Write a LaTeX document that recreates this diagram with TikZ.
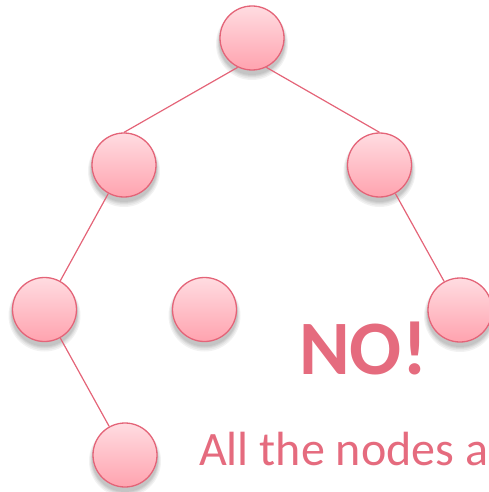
\documentclass[tikz,border=0pt]{standalone}
\usepackage{fontspec}
\setmainfont{Carlito}
\definecolor{edgec}{HTML}{E46478}
\definecolor{topc}{HTML}{FFDCE1}
\definecolor{botc}{HTML}{FFA3AF}
\definecolor{txtc}{HTML}{E56B7E}
\tikzset{
  tnode/.style={circle, minimum size=64pt, inner sep=0pt, draw=edgec, line width=1.3pt,
    top color=topc, bottom color=botc},
  tedge/.style={draw=edgec, line width=1.2pt},
  softshadow/.style={fill=black, fill opacity=0.05, draw=none}
}
\begin{document}
\begin{tikzpicture}[x=1pt,y=-1pt]
\useasboundingbox (0,0) rectangle (489,492);
\clip (0,0) rectangle (489,492);
\coordinate (pr) at (252,38);
\coordinate (pa) at (124,165);
\coordinate (pb) at (379.5,165);
\coordinate (pc) at (44.5,309.5);
\coordinate (pd) at (204.5,309.5);
\coordinate (pe) at (460,310);
\coordinate (pf) at (125,455);
\foreach \p in {pr,pa,pb,pc,pd,pe,pf}{
  \foreach \rr/\dy in {36/6,35/5.5,34/5,33.5/4.5,33/4}{
    \fill[softshadow] ([yshift=-\dy pt]\p) circle[radius=\rr pt];
  }
}
\node[tnode] (r) at (pr) {};
\node[tnode] (a) at (pa) {};
\node[tnode] (b) at (pb) {};
\node[tnode] (c) at (pc) {};
\node[tnode] (d) at (pd) {};
\node[tnode] (e) at (pe) {};
\node[tnode] (f) at (pf) {};
\draw[tedge] (r.244) -- (a.north);
\draw[tedge] (r.296) -- (b.north);
\draw[tedge] (a) -- (c);
\draw[tedge] (b) -- (e);
\draw[tedge] (c) -- (f);
\node[anchor=base west, inner sep=0pt, text=txtc, font=\bfseries\fontsize{77}{80}\selectfont] (no) at (299,374) {NO!};
\node[anchor=base west, inner sep=0pt, text=txtc, font=\fontsize{48}{50}\selectfont] (all) at (199,465) {All the nodes a};
\end{tikzpicture}
\end{document}
